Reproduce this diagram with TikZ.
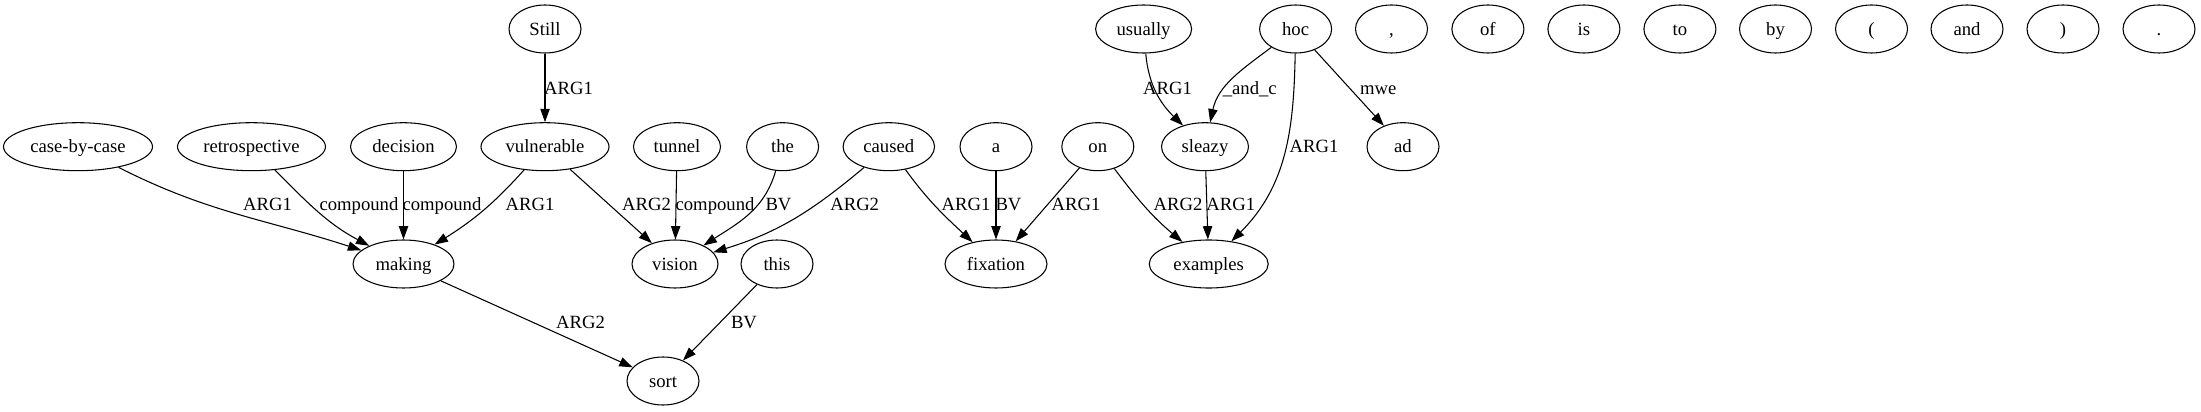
\documentclass[tikz,border=0pt]{standalone}
\usepackage{fontspec}
\setmainfont{Liberation Serif}
\usetikzlibrary{shapes.geometric,arrows.meta}
\begin{document}
\begin{tikzpicture}[x=0.75pt,y=0.75pt,
  nd/.style={ellipse,draw,line width=0.8pt,inner sep=0pt,minimum height=36pt,minimum width=54pt,
    font=\fontsize{14}{16}\selectfont,text height=9.3pt,text depth=0pt},
  lbl/.style={inner sep=0pt,font=\fontsize{14}{16}\selectfont,text height=9.3pt,text depth=0pt},
  conn/.style={draw,line width=0.8pt,-{Triangle[length=10pt,width=7pt]}}]
\useasboundingbox (0,0) rectangle (2201,411);
% row 1
\node[nd] (still) at (545,382) {Still};
\node[nd,minimum width=72pt] (usually) at (1143.6,382) {usually};
\node[nd] (hoc) at (1295.6,382) {hoc};
\node[nd] (comma) at (1391.5,382) {,};
\node[nd] (of) at (1487.9,382) {of};
\node[nd] (is) at (1583.9,382) {is};
\node[nd] (to) at (1679.9,382) {to};
\node[nd] (by) at (1775.5,382) {by};
\node[nd] (lpar) at (1871.5,382) {(};
\node[nd] (and) at (1967,382) {and};
\node[nd] (rpar) at (2063,382) {)};
\node[nd] (dot) at (2159,382) {.};
% row 2
\node[nd,minimum width=111.75pt] (cbc) at (78,264.3) {case-by-case};
\node[nd,minimum width=111pt] (retro) at (251.5,264.3) {retrospective};
\node[nd,minimum width=79.5pt] (decision) at (403.5,264.3) {decision};
\node[nd,minimum width=96pt] (vuln) at (545,264.3) {vulnerable};
\node[nd,minimum width=65.25pt] (tunnel) at (677,264.3) {tunnel};
\node[nd] (the) at (782.6,264.3) {the};
\node[nd,minimum width=68.6pt] (caused) at (888.8,264.3) {caused};
\node[nd] (a) at (996,264.3) {a};
\node[nd] (on) at (1097.8,264.3) {on};
\node[nd,minimum width=65.25pt] (sleazy) at (1205,264.3) {sleazy};
\node[nd] (ad) at (1403,264.3) {ad};
% row 3
\node[nd,minimum width=75.75pt] (making) at (403.5,147) {making};
\node[nd,minimum width=64.5pt] (vision) at (675,147) {vision};
\node[nd] (this) at (777,147) {this};
\node[nd,minimum width=76.5pt] (fixation) at (996,147) {fixation};
\node[nd,minimum width=89.25pt] (examples) at (1208.7,147) {examples};
% row 4
\node[nd] (sort) at (663,30) {sort};
% edges
\draw[conn] (still) -- (vuln);
\draw[conn] (cbc) to[out=-27,in=162] (making);
\draw[conn] (retro) to[out=-45,in=152] (making);
\draw[conn] (decision) -- (making);
\draw[conn] (vuln) to[out=-132,in=32] (making);
\draw[conn] (vuln) -- (vision);
\draw[conn] (tunnel) -- (vision);
\draw[conn] (the) to[out=-106,in=33] (vision);
\draw[conn] (caused) to[out=-140,in=17] (vision);
\draw[conn] (caused) to[out=-54,in=137] (fixation);
\draw[conn] (a) -- (fixation);
\draw[conn] (on) -- (fixation);
\draw[conn] (on) to[out=-53,in=140] (examples);
\draw[conn] (sleazy) -- (examples);
\draw[conn] (hoc) to[out=-91,in=45] (examples);
\draw[conn] (hoc) to[out=-143,in=78] (sleazy);
\draw[conn] (hoc) -- (ad);
\draw[conn] (usually) to[out=-85,in=136] (sleazy);
\draw[conn] (making) -- (sort);
\draw[conn] (this) -- (sort);
% labels
\node[lbl] (l1) at (568.5,323) {ARG1};
\node[lbl] (l2) at (267.5,207) {ARG1};
\node[lbl] (l3) at (359,207) {compound};
\node[lbl] (l4) at (442,207) {compound};
\node[lbl] (l5) at (530,207) {ARG1};
\node[lbl] (l6) at (646.5,207) {ARG2};
\node[lbl] (l7) at (715,207) {compound};
\node[lbl] (l8) at (778.5,207) {BV};
\node[lbl] (l9) at (854.7,207) {ARG2};
\node[lbl] (l10) at (966,207) {ARG1};
\node[lbl] (l11) at (1008.5,207) {BV};
\node[lbl] (l12) at (1076,207) {ARG1};
\node[lbl] (l13) at (1178,207) {ARG2};
\node[lbl] (l14) at (1230.8,207) {ARG1};
\node[lbl] (l15) at (1314,264.3) {ARG1};
\node[lbl] (l16) at (1249.8,323) {\_and\_c};
\node[lbl] (l17) at (1378.3,323) {mwe};
\node[lbl] (l18) at (1167.5,323) {ARG1};
\node[lbl] (l19) at (580.5,88.3) {ARG2};
\node[lbl] (l20) at (744,88.3) {BV};
\end{tikzpicture}
\end{document}
